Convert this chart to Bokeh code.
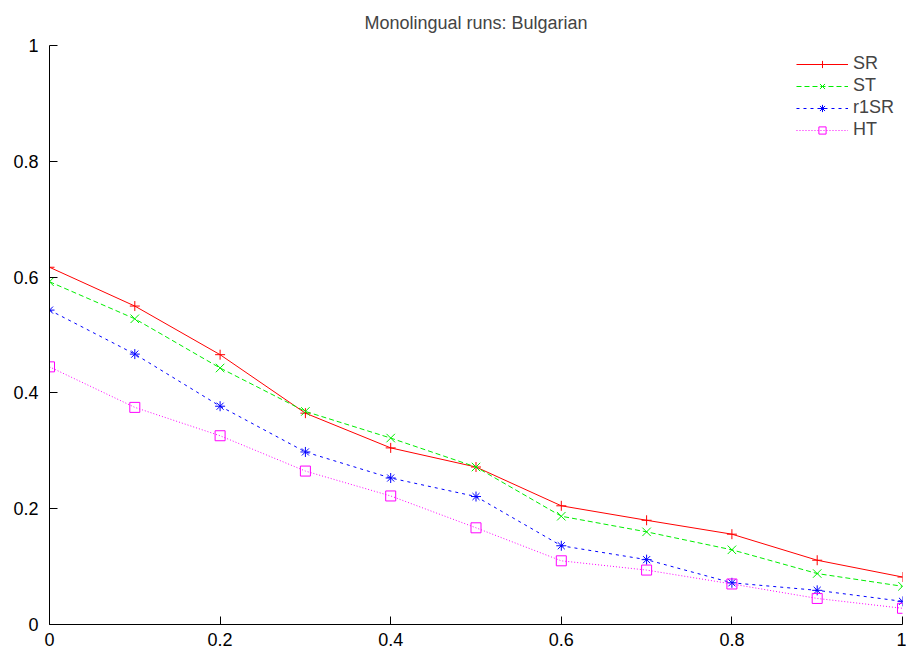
from bokeh.plotting import figure
from bokeh.models import Range1d, FixedTicker, Legend, LegendItem
from bokeh.embed import file_html
from bokeh.resources import INLINE

recall = [0.0, 0.1, 0.2, 0.3, 0.4, 0.5, 0.6, 0.7, 0.8, 0.9, 1.0]
sr   = [0.617, 0.550, 0.466, 0.365, 0.305, 0.272, 0.205, 0.180, 0.156, 0.111, 0.082]
st   = [0.592, 0.528, 0.443, 0.368, 0.322, 0.272, 0.187, 0.160, 0.129, 0.088, 0.066]
r1sr = [0.543, 0.467, 0.377, 0.298, 0.253, 0.221, 0.136, 0.112, 0.072, 0.059, 0.040]
ht   = [0.445, 0.375, 0.326, 0.265, 0.222, 0.167, 0.110, 0.094, 0.070, 0.045, 0.028]
ticks = [0, 0.2, 0.4, 0.6, 0.8, 1]

FONT = "Liberation Sans"

p = figure(width=906, height=650, output_backend="svg", toolbar_location=None,
           x_range=Range1d(0, 1), y_range=Range1d(0, 1),
           title="Monolingual runs: Bulgarian",
           min_border_left=49, min_border_right=4, min_border_top=45, min_border_bottom=26)
p.title.align = "center"
p.title.text_font = FONT
p.title.text_font_size = "18px"
p.title.text_font_style = "normal"
p.title.vertical_align = "top"
p.title.standoff = 22
p.outline_line_color = None
p.grid.visible = False

for ax in (p.xaxis, p.yaxis):
    ax.ticker = FixedTicker(ticks=ticks)
    ax.major_tick_in = 8
    ax.major_tick_out = 0
    ax.minor_tick_line_color = None
    ax.axis_line_color = "black"
    ax.major_tick_line_color = "black"
    ax.major_label_text_font = FONT
    ax.major_label_text_font_size = "18px"
    ax.major_label_text_color = "black"
p.xaxis.major_label_standoff = 8
p.yaxis.major_label_standoff = 11
p.xaxis.major_label_overrides = {0: "0", 1: "1"}
p.yaxis.major_label_overrides = {0: "0", 1: "1"}

series = [
    ("SR", sr, "#ff0000", "solid", "cross", 10),
    ("ST", st, "#00ee00", "5 3", "x", 12),
    ("r1SR", r1sr, "#0000ff", "3 4", "asterisk", 10),
    ("HT", ht, "#ff00ff", "1 2", "square", 10),
]
items = []
for name, ys, col, dash, mk, sz in series:
    l = p.line(recall, ys, line_color=col, line_width=1, line_dash=dash)
    s = p.scatter(recall, ys, marker=mk, size=sz, line_color=col, fill_color=None, line_width=1)
    items.append(LegendItem(label=name, renderers=[l, s]))

leg = Legend(items=items, location="top_right")
leg.border_line_color = None
leg.background_fill_alpha = 0
leg.label_text_font = FONT
leg.label_text_font_size = "18px"
leg.glyph_width = 52
leg.label_height = 18
leg.glyph_height = 18
leg.spacing = 1
leg.padding = 0
leg.margin = 8
p.add_layout(leg)

open("out.html", "w").write(file_html(p, INLINE))
